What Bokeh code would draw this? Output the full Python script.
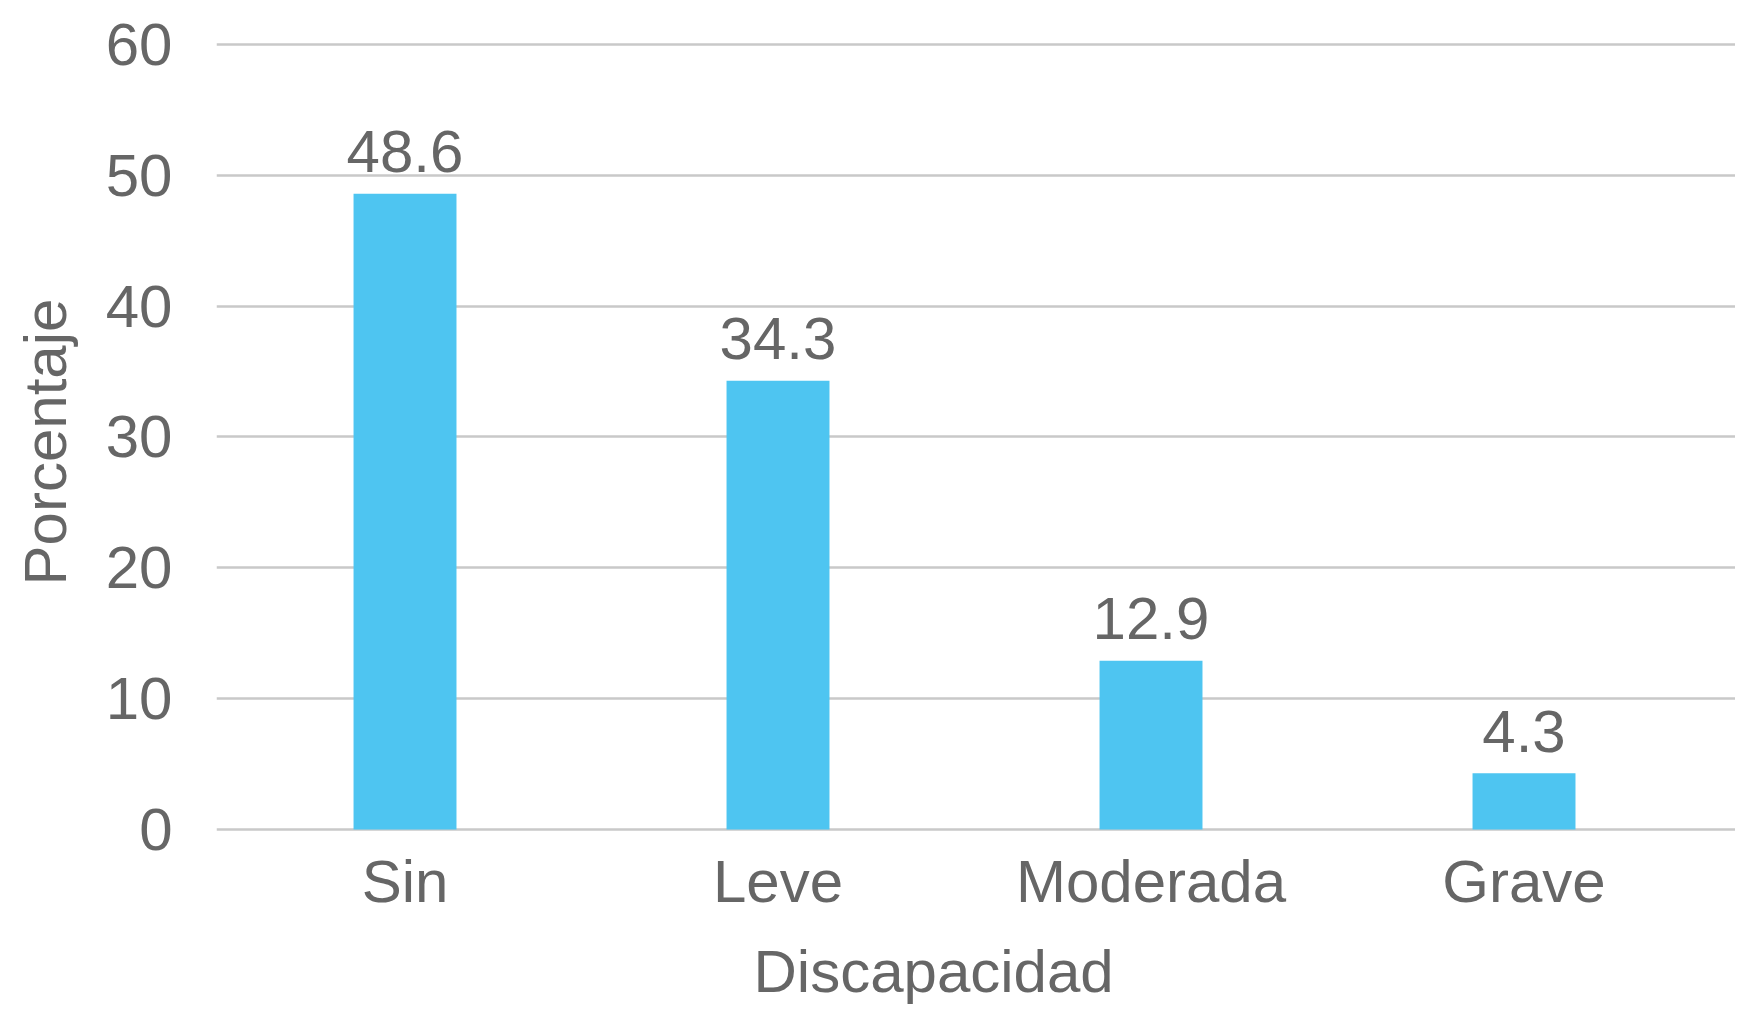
from bokeh.plotting import figure
from bokeh.models import Range1d, FixedTicker, ColumnDataSource, Title
from bokeh.embed import file_html
from bokeh.resources import INLINE
from bokeh.core.properties import value

categories = ["Sin", "Leve", "Moderada", "Grave"]
percentages = [48.6, 34.3, 12.9, 4.3]
y_ticks = [0, 10, 20, 30, 40, 50, 60]
x_title = "Discapacidad"
y_title = "Porcentaje"

FONT = "Liberation Sans"
FS = "60px"
TEXT = "#666666"
BAR = "#4EC5F1"
GRID = "#C9C9C9"

xs = [i + 0.5 for i in range(len(categories))]
labels = [f"{v:.1f}" for v in percentages]
src = ColumnDataSource(dict(x=xs, top=percentages, label=labels))

p = figure(width=1735, height=1024, output_backend="svg", toolbar_location=None,
           x_range=Range1d(-0.0054, 4.067), y_range=Range1d(-1.0, 60.23),
           min_border_left=216, min_border_right=0, min_border_top=41,
           min_border_bottom=182)
p.outline_line_color = None
p.background_fill_color = "white"
p.border_fill_color = "white"

p.vbar(x="x", top="top", bottom=0, width=0.276, source=src,
       fill_color=BAR, line_color=None)
p.text(x="x", y="top", text="label", source=src, text_align="center",
       text_baseline="alphabetic", y_offset=-42, text_font=value(FONT),
       text_font_size=FS, text_color=TEXT)

p.xgrid.visible = False
p.ygrid.ticker = FixedTicker(ticks=y_ticks)
p.ygrid.grid_line_color = GRID
p.ygrid.grid_line_width = 2.7

p.xaxis.ticker = FixedTicker(ticks=xs)
p.xaxis.major_label_overrides = {x: c for x, c in zip(xs, categories)}
p.yaxis.ticker = FixedTicker(ticks=y_ticks)

for ax in (p.xaxis, p.yaxis):
    ax.axis_line_color = None
    ax.major_tick_line_color = None
    ax.minor_tick_line_color = None
    ax.major_tick_out = 0
    ax.major_tick_in = 0
    ax.major_label_text_font = FONT
    ax.major_label_text_font_size = FS
    ax.major_label_text_color = TEXT

p.xaxis.major_label_standoff = 5
p.yaxis.major_label_standoff = 44
p.yaxis.axis_label = y_title
p.yaxis.axis_label_text_font = FONT
p.yaxis.axis_label_text_font_size = FS
p.yaxis.axis_label_text_font_style = "normal"
p.yaxis.axis_label_text_color = TEXT
p.yaxis.axis_label_standoff = 24

p.add_layout(Title(text=x_title, align="left", offset=537, standoff=37,
                   vertical_align="bottom", text_font=FONT, text_font_size=FS,
                   text_font_style="normal", text_color=TEXT), "below")

open("out.html", "w").write(file_html(p, INLINE))
